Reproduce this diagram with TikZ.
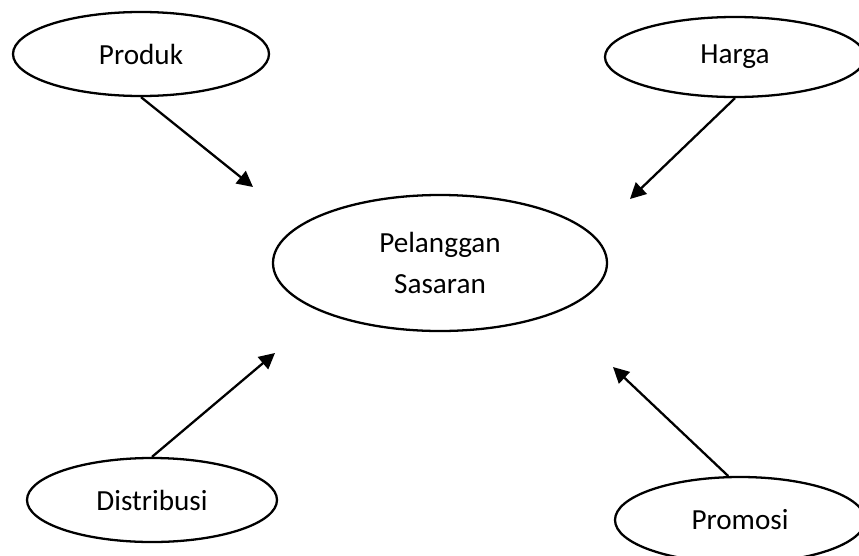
\documentclass[tikz,border=0pt]{standalone}
\usepackage{fontspec}
\setmainfont{Carlito}
\usetikzlibrary{arrows.meta}
\usetikzlibrary{shapes.geometric}

\begin{document}
\begin{tikzpicture}[scale=1,
  elips/.style={draw,ellipse,line width=1.3pt,inner sep=0pt,font=\fontsize{16.6}{23}\selectfont,align=center},
  panah/.style={-{Triangle[length=9pt,width=9pt]},line width=1.3pt}]
\useasboundingbox (0,0) rectangle (17.18,11.1);
\node[elips,minimum width=5.12cm,minimum height=1.68cm] (produk) at (2.82,10.02) {Produk};
\node[elips,minimum width=5.2cm,minimum height=1.6cm] (harga) at (14.7,9.96) {Harga};
\node[elips,minimum width=6.68cm,minimum height=2.72cm] (sasaran) at (8.8,5.84) {Pelanggan\\Sasaran};
\node[elips,minimum width=5.0cm,minimum height=1.68cm] (distribusi) at (3.04,1.1) {Distribusi};
\node[elips,minimum width=5.0cm,minimum height=1.72cm] (promosi) at (14.8,0.7) {Promosi};
% ujung panah
\coordinate (p1) at (5.06,7.36);
\coordinate (p2) at (12.6,7.12);
\coordinate (p3) at (5.5,4.04);
\coordinate (p4) at (12.26,3.76);
\draw[panah] (produk.south) -- (p1);
\draw[panah] (harga.south) -- (p2);
\draw[panah] (distribusi.north) -- (p3);
\draw[panah] (promosi.105) -- (p4);
\end{tikzpicture}
\end{document}
